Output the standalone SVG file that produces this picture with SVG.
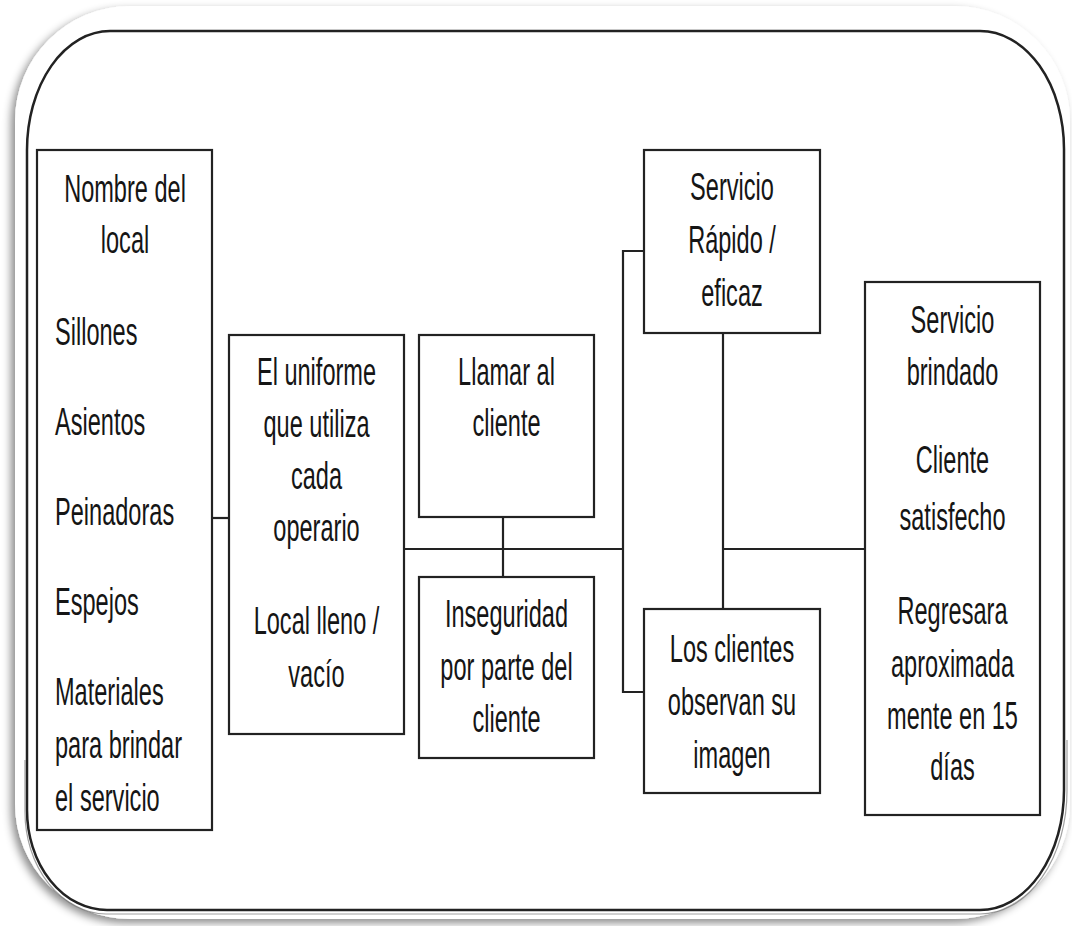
<svg xmlns="http://www.w3.org/2000/svg" width="1072" height="926" viewBox="0 0 1072 926">
<defs>
<filter id="sh" x="-5%" y="-5%" width="110%" height="110%">
<feDropShadow dx="-4" dy="4" stdDeviation="4" flood-color="#000" flood-opacity="0.45"/>
</filter>
<style>
.box{fill:#fff;stroke:#222;stroke-width:2.2}
.ln{fill:none;stroke:#222;stroke-width:2.2}
.t{font-family:"Liberation Sans",Arial,sans-serif;font-size:38px;fill:#151515}
.c{text-anchor:middle}
</style>
</defs>
<rect width="1072" height="926" fill="#fff"/>
<rect x="15" y="6" width="1055" height="913" rx="115" ry="115" fill="#fff" filter="url(#sh)"/>
<path d="M 110 31 H 980 A 84 118 0 0 1 1064 149 V 790 A 84 120 0 0 1 980 910 H 107 A 80 100 0 0 1 27 810 V 150 A 83 119 0 0 1 110 31 Z" fill="none" stroke="#222" stroke-width="2.5"/>
<path d="M 25 760 V 812 A 82 102 0 0 0 106 914 H 980 A 87 123 0 0 0 1067 790 V 740" fill="none" stroke="#777" stroke-width="1.2" opacity="0.7"/>

<g id="connectors">
<line class="ln" x1="212" y1="518" x2="229" y2="518"/>
<line class="ln" x1="404" y1="549" x2="623" y2="549"/>
<line class="ln" x1="503" y1="517" x2="503" y2="577"/>
<polyline class="ln" points="644,251 623,251 623,692 644,692"/>
<line class="ln" x1="723" y1="333" x2="723" y2="609"/>
<line class="ln" x1="723" y1="549" x2="865" y2="549"/>
</g>

<g id="node-a">
<rect class="box" x="37" y="150" width="175" height="680"/>
<g transform="matrix(0.62,0,0,1,125,0)"><text class="t c" x="0" y="202">Nombre del</text><text class="t c" x="0" y="253">local</text></g>
<g transform="matrix(0.62,0,0,1,55,0)">
<text class="t" x="0" y="345">Sillones</text>
<text class="t" x="0" y="435">Asientos</text>
<text class="t" x="0" y="525">Peinadoras</text>
<text class="t" x="0" y="615">Espejos</text>
<text class="t" x="0" y="705">Materiales</text>
<text class="t" x="0" y="758">para brindar</text>
<text class="t" x="0" y="811">el servicio</text>
</g>
</g>

<g id="node-b">
<rect class="box" x="229" y="335" width="175" height="399"/>
<g transform="matrix(0.62,0,0,1,316.5,0)">
<text class="t c" x="0" y="385">El uniforme</text>
<text class="t c" x="0" y="437">que utiliza</text>
<text class="t c" x="0" y="489">cada</text>
<text class="t c" x="0" y="541">operario</text>
<text class="t c" x="0" y="634">Local lleno /</text>
<text class="t c" x="0" y="687">vacío</text>
</g>
</g>

<g id="node-c">
<rect class="box" x="419" y="335" width="175" height="182"/>
<g transform="matrix(0.62,0,0,1,506.5,0)">
<text class="t c" x="0" y="385">Llamar al</text>
<text class="t c" x="0" y="436">cliente</text>
</g>
</g>

<g id="node-d">
<rect class="box" x="419" y="577" width="175" height="181"/>
<g transform="matrix(0.62,0,0,1,506.5,0)">
<text class="t c" x="0" y="627">Inseguridad</text>
<text class="t c" x="0" y="680">por parte del</text>
<text class="t c" x="0" y="732">cliente</text>
</g>
</g>

<g id="node-e">
<rect class="box" x="644" y="150" width="176" height="183"/>
<g transform="matrix(0.62,0,0,1,732,0)">
<text class="t c" x="0" y="200">Servicio</text>
<text class="t c" x="0" y="253">Rápido /</text>
<text class="t c" x="0" y="306">eficaz</text>
</g>
</g>

<g id="node-f">
<rect class="box" x="644" y="609" width="176" height="184"/>
<g transform="matrix(0.62,0,0,1,732,0)">
<text class="t c" x="0" y="662">Los clientes</text>
<text class="t c" x="0" y="715">observan su</text>
<text class="t c" x="0" y="768">imagen</text>
</g>
</g>

<g id="node-g">
<rect class="box" x="865" y="282" width="175" height="533"/>
<g transform="matrix(0.62,0,0,1,952.5,0)">
<text class="t c" x="0" y="333">Servicio</text>
<text class="t c" x="0" y="385">brindado</text>
<text class="t c" x="0" y="473">Cliente</text>
<text class="t c" x="0" y="530">satisfecho</text>
<text class="t c" x="0" y="624">Regresara</text>
<text class="t c" x="0" y="677">aproximada</text>
<text class="t c" x="0" y="729">mente en 15</text>
<text class="t c" x="0" y="780">días</text>
</g>
</g>
</svg>
